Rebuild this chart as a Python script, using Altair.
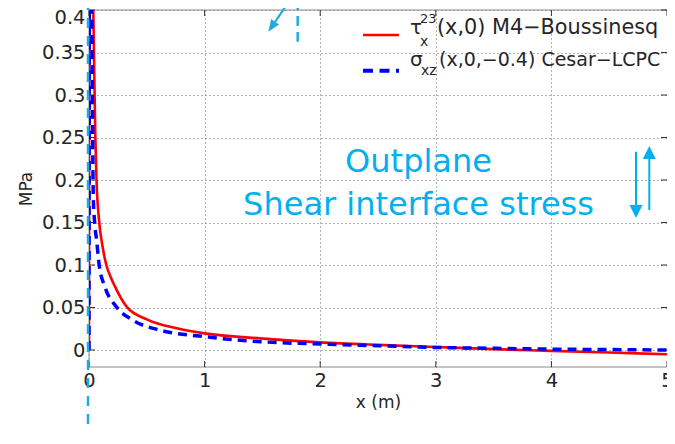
import altair as alt
import pandas as pd

# ---- data ----
red_x = [0, 0.004, 0.035, 0.045, 0.055, 0.065, 0.088, 0.117, 0.15, 0.19, 0.225, 0.325,
         0.5, 0.76, 1.0, 1.48, 2.0, 2.5, 3.0, 3.5, 4.0, 4.5, 5.0]
red_y = [0, 0.6, 0.42, 0.33, 0.25, 0.2, 0.151, 0.122, 0.1, 0.085, 0.0745, 0.051,
         0.036, 0.0255, 0.0196, 0.0137, 0.009, 0.006, 0.0035, 0.001, -0.001, -0.003, -0.005]

blue_x = [0, 0.005, 0.02, 0.03, 0.037, 0.05, 0.066, 0.088, 0.137, 0.236, 0.38,
          0.61, 1.0, 1.48, 2.0, 2.5, 3.0, 3.5, 4.0, 4.5, 5.0]
blue_y = [0, 0.6, 0.45, 0.28, 0.18, 0.148, 0.129, 0.1, 0.0745, 0.051, 0.035,
          0.0235, 0.0157, 0.0098, 0.007, 0.005, 0.003, 0.002, 0.001, 0.0005, 0.0]

x_ticks = [0, 1, 2, 3, 4, 5]
y_ticks = [0, 0.05, 0.1, 0.15, 0.2, 0.25, 0.3, 0.35, 0.4]

legend_red_main = "(x,0) M4\u2212Boussinesq"
legend_blue_main = "(x,0,\u22120.4) Cesar\u2212LCPC"
note_line1 = "Outplane"
note_line2 = "Shear interface stress"

FONT = "DejaVu Sans"
CYAN = "#00B0F0"
CYAN2 = "#22ACD9"
TXT = "#262626"
FRAME = "#8a8a8a"

XMIN, XMAX, YMIN, YMAX = 0, 5, -0.02, 0.4
xs = alt.Scale(domain=[XMIN, XMAX], nice=False, zero=False)
ys = alt.Scale(domain=[YMIN, YMAX], nice=False, zero=False)

ax_x = alt.Axis(values=x_ticks, format="~g", title="x (m)", grid=True, ticks=False, domain=False,
                labelFont=FONT, labelFontSize=19.5, labelColor=TXT, labelPadding=4,
                titleFont=FONT, titleFontSize=17, titleFontWeight="normal", titleColor=TXT,
                titlePadding=5, gridDash=[1, 3], gridColor="#666666", labelFlush=False)
ax_y = alt.Axis(values=y_ticks, format="~g", title="MPa", grid=True, ticks=False, domain=False,
                labelFont=FONT, labelFontSize=19.5, labelColor=TXT, labelPadding=4,
                labelOffset={"condition": {"test": "datum.value >= 0.39", "value": 7}, "value": 0},
                titleFont=FONT, titleFontSize=17, titleFontWeight="normal", titleColor=TXT,
                titlePadding=6, gridDash=[1, 3], gridColor="#666666", labelFlush=False)

df_red = pd.DataFrame({"x": red_x, "y": red_y})
df_blue = pd.DataFrame({"x": blue_x, "y": blue_y})
one = pd.DataFrame({"a": [0]})

tick_len_y = 6 / 850
tick_len_x = 6 / 115.6
df_xt = pd.DataFrame({"x": x_ticks})
df_yt = pd.DataFrame({"y": y_ticks})

def X(f="x"):
    return alt.X(f + ":Q", scale=xs, axis=ax_x)

def Y(f="y"):
    return alt.Y(f + ":Q", scale=ys, axis=ax_y)

red = alt.Chart(df_red).mark_line(color="#FF0000", strokeWidth=2.6, clip=True,
                                  interpolate="monotone").encode(
    x=X(), y=Y(), order=alt.Order("x:Q"))

blue = alt.Chart(df_blue).mark_line(color="#0000FF", strokeWidth=3.5, strokeDash=[9, 6], clip=True,
                                    interpolate="monotone").encode(
    x=X(), y=Y(), order=alt.Order("x:Q"))

# frame lines (top, left, bottom) drawn on the scales
frame_h = alt.Chart(pd.DataFrame({"y": [YMIN, YMAX]})).mark_rule(color=FRAME, strokeWidth=1).encode(
    y=Y(), x=alt.datum(XMIN), x2=alt.datum(XMAX))
frame_v = alt.Chart(pd.DataFrame({"x": [XMIN]})).mark_rule(color=FRAME, strokeWidth=1).encode(
    x=X(), y=alt.datum(YMIN), y2=alt.datum(YMAX))

# inward ticks
bt = alt.Chart(df_xt).transform_calculate(a=str(YMIN), b=str(YMIN + tick_len_y)).mark_rule(
    color="#333333", strokeWidth=1).encode(x=X(), y=Y("a"), y2="b:Q")
tt = alt.Chart(df_xt).transform_calculate(a=str(YMAX), b=str(YMAX - tick_len_y)).mark_rule(
    color="#333333", strokeWidth=1).encode(x=X(), y=Y("a"), y2="b:Q")
lt = alt.Chart(df_yt).transform_calculate(a=str(XMIN), b=str(XMIN + tick_len_x)).mark_rule(
    color="#333333", strokeWidth=1).encode(y=Y(), x=X("a"), x2="b:Q")
rt = alt.Chart(df_yt).transform_calculate(a=str(XMAX), b=str(XMAX - tick_len_x)).mark_rule(
    color="#333333", strokeWidth=1).encode(y=Y(), x=X("a"), x2="b:Q")

layers = [frame_h, frame_v, bt, tt, lt, rt, red, blue]

def txt(s, x, y, size, color=TXT, align="left"):
    return alt.Chart(one).mark_text(text=s, font=FONT, fontSize=size, color=color,
                                    align=align, baseline="alphabetic").encode(
        x=alt.value(x), y=alt.value(y))

def seg(x1, y1, x2, y2, color, width, dash=None):
    kw = dict(color=color, strokeWidth=width)
    if dash:
        kw["strokeDash"] = dash
    return alt.Chart(one).mark_rule(**kw).encode(
        x=alt.value(x1), y=alt.value(y1), x2=alt.value(x2), y2=alt.value(y2))

def head(x, y, angle, size, color, path):
    return alt.Chart(one).mark_point(shape=path, filled=True, size=size, angle=angle,
                                     color=color, opacity=1, strokeWidth=0).encode(
        x=alt.value(x), y=alt.value(y))

# legend
layers += [
    seg(274, 25, 310, 25, "#FF0000", 2.6),
    seg(274, 60.7, 310, 60.7, "#0000FF", 4, [10, 6.5]),
    txt("\u03c4", 321, 24, 20),
    txt("23", 331, 13, 13),
    txt("x", 331, 36, 14),
    txt(legend_red_main, 348, 24, 20.8),
    txt("\u03c3", 321, 56, 20),
    txt("xz", 332, 65, 14),
    txt(legend_blue_main, 350, 56, 19),
]

# annotations
layers += [
    txt(note_line1, 329.5, 162, 32, CYAN, "center"),
    txt(note_line2, 329.5, 205, 32, CYAN, "center"),
    seg(-1, -10, -1, 430, CYAN2, 2.5, [10, 8]),
    seg(208.7, -10, 208.7, 31.7, CYAN2, 2.5, [10, 6]),
    seg(203, -13, 186.1, 11.8, CYAN2, 2.2),
    head(182.7, 16.75, 214.4, 144, CYAN2, "M0,-1L0.8,1L-0.8,1Z"),
    seg(547, 141.7, 547, 195, CYAN, 2),
    head(547, 201.5, 180, 169, CYAN, "M0,-1L1,1L-1,1Z"),
    seg(560.3, 149, 560.3, 200, CYAN, 2),
    head(560.3, 142.5, 0, 169, CYAN, "M0,-1L1,1L-1,1Z"),
]

chart = alt.layer(*layers).properties(
    width=578, height=357,
    autosize=alt.AutoSizeParams(type="none"),
    padding={"left": 81, "top": 2, "right": 0, "bottom": 61},
    background="white",
).configure_view(stroke=None)

chart.save("out.html", embed_options={"renderer": "svg", "actions": False})
